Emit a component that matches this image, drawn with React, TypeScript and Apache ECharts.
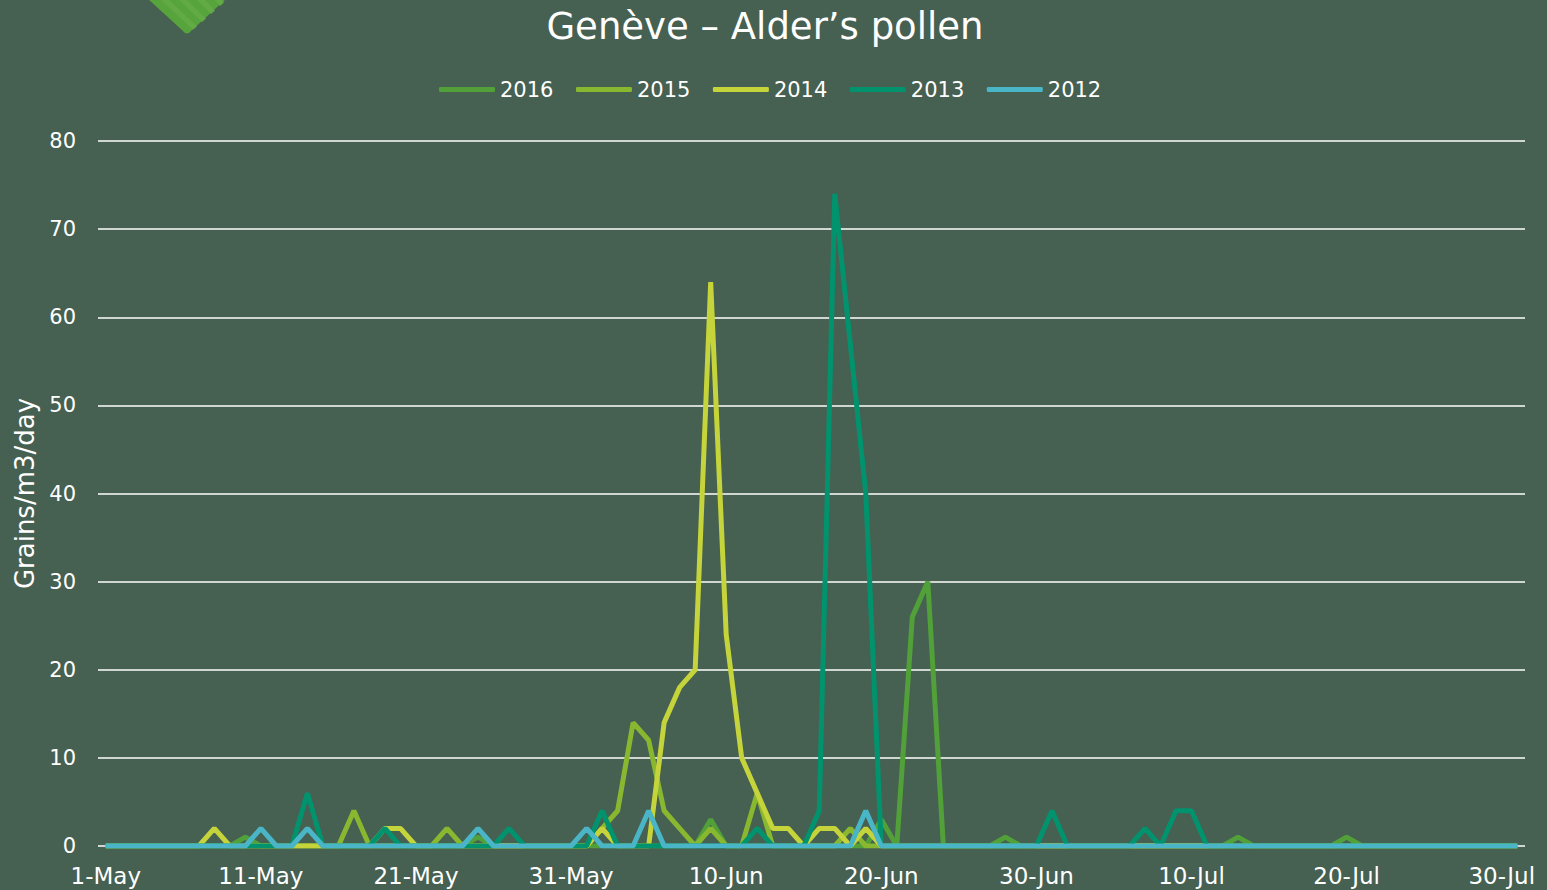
import React, { useEffect, useRef } from "react";
import * as echarts from "echarts";

const monthNames = ["May", "Jun", "Jul"];
const monthLengths = [31, 30, 31];
const categories: string[] = [];
monthNames.forEach((m, i) => {
  for (let d = 1; d <= monthLengths[i]; d++) categories.push(d + "-" + m);
});

const seriesNames = ["2016", "2015", "2014", "2013", "2012"];
const seriesColors = ["#51a039", "#88b830", "#c4d43a", "#00936e", "#4ab5c6"];

const y2016 = [
  0, 0, 0, 0, 0, 0, 0, 0, 0, 1,
  0, 0, 0, 0, 0, 0, 0, 0, 0, 0,
  0, 0, 0, 0, 1, 0, 0, 0, 0, 0,
  0, 0, 0, 0, 0, 0, 0, 0, 0, 3,
  0, 0, 0, 0, 0, 0, 0, 0, 0, 0,
  3, 0, 26, 30, 0, 0, 0, 0, 1, 0,
  0, 0, 0, 0, 0, 0, 0, 0, 0, 0,
  0, 0, 0, 1, 0, 0, 0, 0, 0, 0,
  1, 0, 0, 0, 0, 0, 0, 0, 0, 0,
  0, 0,
];
const y2015 = [
  0, 0, 0, 0, 0, 0, 0, 0, 0, 0,
  0, 0, 0, 0, 0, 0, 4, 0, 0, 0,
  0, 0, 2, 0, 0, 0, 0, 0, 0, 0,
  0, 0, 2, 4, 14, 12, 4, 2, 0, 2,
  0, 0, 6, 0, 0, 0, 0, 0, 2, 0,
  0, 0, 0, 0, 0, 0, 0, 0, 0, 0,
  0, 0, 0, 0, 0, 0, 0, 0, 0, 0,
  0, 0, 0, 0, 0, 0, 0, 0, 0, 0,
  0, 0, 0, 0, 0, 0, 0, 0, 0, 0,
  0, 0,
];
const y2014 = [
  0, 0, 0, 0, 0, 0, 0, 2, 0, 0,
  0, 0, 0, 0, 0, 0, 0, 0, 2, 2,
  0, 0, 0, 0, 0, 0, 0, 0, 0, 0,
  0, 0, 2, 0, 0, 0, 14, 18, 20, 64,
  24, 10, 6, 2, 2, 0, 2, 2, 0, 2,
  0, 0, 0, 0, 0, 0, 0, 0, 0, 0,
  0, 0, 0, 0, 0, 0, 0, 0, 0, 0,
  0, 0, 0, 0, 0, 0, 0, 0, 0, 0,
  0, 0, 0, 0, 0, 0, 0, 0, 0, 0,
  0, 0,
];
const y2013 = [
  0, 0, 0, 0, 0, 0, 0, 0, 0, 0,
  0, 0, 0, 6, 0, 0, 0, 0, 2, 0,
  0, 0, 0, 0, 0, 0, 2, 0, 0, 0,
  0, 0, 4, 0, 0, 0, 0, 0, 0, 0,
  0, 0, 2, 0, 0, 0, 4, 74, 57, 40,
  0, 0, 0, 0, 0, 0, 0, 0, 0, 0,
  0, 4, 0, 0, 0, 0, 0, 2, 0, 4,
  4, 0, 0, 0, 0, 0, 0, 0, 0, 0,
  0, 0, 0, 0, 0, 0, 0, 0, 0, 0,
  0, 0,
];
const y2012 = [
  0, 0, 0, 0, 0, 0, 0, 0, 0, 0,
  2, 0, 0, 2, 0, 0, 0, 0, 0, 0,
  0, 0, 0, 0, 2, 0, 0, 0, 0, 0,
  0, 2, 0, 0, 0, 4, 0, 0, 0, 0,
  0, 0, 0, 0, 0, 0, 0, 0, 0, 4,
  0, 0, 0, 0, 0, 0, 0, 0, 0, 0,
  0, 0, 0, 0, 0, 0, 0, 0, 0, 0,
  0, 0, 0, 0, 0, 0, 0, 0, 0, 0,
  0, 0, 0, 0, 0, 0, 0, 0, 0, 0,
  0, 0,
];
const seriesValues = [y2016, y2015, y2014, y2013, y2012];

const FONT = "'DejaVu Sans', 'Noto Sans', sans-serif";

let registered = false;
function registerLogo() {
  if (registered) return;
  registered = true;
  echarts.graphic.registerShape(
    "logo",
    echarts.graphic.extendPath("M0,-2 L80,-2 L44,31 Q40,36 36,31 Z", {})
  );
  echarts.graphic.registerShape(
    "logostripes",
    echarts.graphic.extendPath(
      "M12,-2 L20,-2 L50,26.2 L46,29.7 Z M30,-2 L38,-2 L59,18.4 L55,21.9 Z M48,-2 L56,-2 L68,10.5 L64,14 Z M66,-2 L74,-2 L77,2.6 L73,6.1 Z",
      {}
    )
  );
}

export default function App() {
  const ref = useRef<HTMLDivElement>(null);
  useEffect(() => {
    if (!ref.current) return;
    registerLogo();
    const chart = echarts.init(ref.current, null, { renderer: "svg" });
    chart.setOption({
      animation: false,
      backgroundColor: "#466051",
      textStyle: { fontFamily: FONT },
      title: {
        text: "Genève – Alder’s pollen",
        left: 760,
        textAlign: "center",
        top: 3,
        textStyle: { color: "#ffffff", fontSize: 37, fontWeight: "normal", fontFamily: FONT },
      },
      legend: {
        data: seriesNames,
        top: 74,
        left: 434,
        itemWidth: 56,
        itemHeight: 5,
        itemGap: 22.5,
        icon: "roundRect",
        textStyle: { color: "#ffffff", fontSize: 21, fontFamily: FONT },
      },
      grid: { left: 98, right: 22, top: 141, bottom: 44 },
      xAxis: {
        type: "category",
        data: categories,
        boundaryGap: true,
        axisLine: { show: false },
        axisTick: { show: false },
        axisLabel: {
          interval: 9,
          color: "#ffffff",
          fontSize: 23,
          margin: 18,
          fontFamily: FONT,
        },
      },
      yAxis: {
        type: "value",
        min: 0,
        max: 80,
        interval: 10,
        axisLine: { show: false },
        axisTick: { show: false },
        axisLabel: { color: "#ffffff", fontSize: 21, margin: 22, fontFamily: FONT },
        splitLine: { lineStyle: { color: "#ffffff", width: 1.5 } },
        name: "Grains/m3/day",
        nameLocation: "middle",
        nameRotate: 90,
        nameGap: 58,
        nameTextStyle: { color: "#ffffff", fontSize: 26, fontFamily: FONT },
      },
      series: seriesNames.map((n, i) => ({
        name: n,
        type: "line",
        data: seriesValues[i],
        symbol: "none",
        showSymbol: false,
        color: seriesColors[i],
        lineStyle: { width: 5, color: seriesColors[i] },
        itemStyle: { color: seriesColors[i] },
      })),
      graphic: [
        {
          type: "logo",
          x: 147,
          y: 0,
          style: { fill: "#58a43c" },
        },
        {
          type: "logostripes",
          x: 147,
          y: 0,
          style: { fill: "#61aa46" },
        },
      ],
    });
    return () => chart.dispose();
  }, []);
  return (
    <div
      ref={ref}
      style={{ position: "absolute", left: 0, top: 0, width: 1547, height: 890 }}
    />
  );
}
